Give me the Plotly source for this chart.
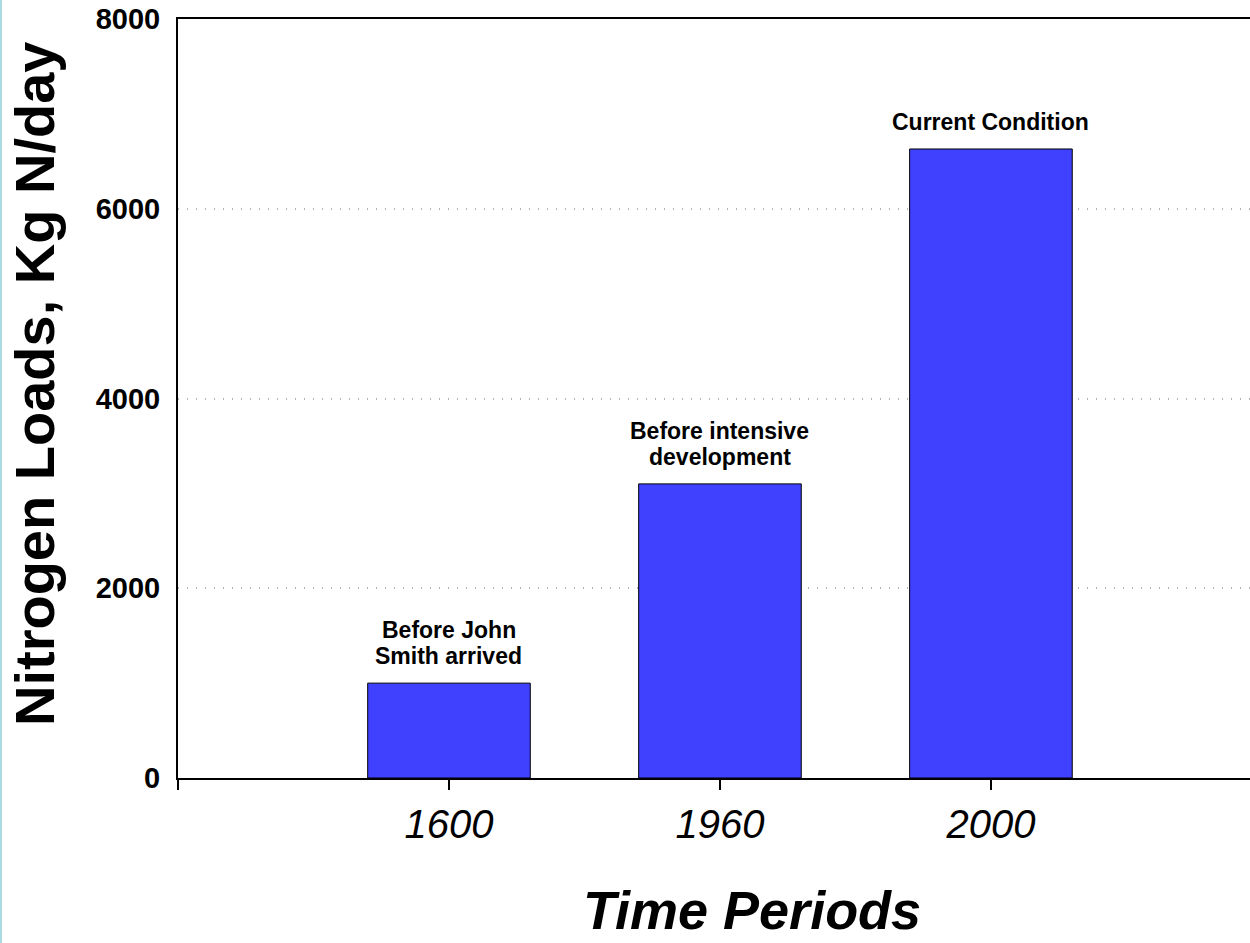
import plotly.graph_objects as go

# Data
periods = ["1600", "1960", "2000"]
positions = [1, 2, 3]
loads = [1000, 3100, 6630]
labels = [["Before John", "Smith arrived"], ["Before intensive", "development"], ["Current Condition"]]
y_ticks = [0, 2000, 4000, 6000, 8000]

FONT = "Arial, Liberation Sans, sans-serif"

fig = go.Figure()
fig.add_trace(go.Bar(
    x=positions, y=loads, width=0.6,
    marker=dict(color="#4040FF", line=dict(color="black", width=1)),
    showlegend=False, hoverinfo="skip",
))

for xp, v, lines in zip(positions, loads, labels):
    for i, line in enumerate(reversed(lines)):
        fig.add_annotation(x=xp, y=v, text="<b>%s</b>" % line, showarrow=False,
                           xanchor="center", yanchor="bottom", yshift=12 + 26 * i,
                           font=dict(family=FONT, size=23, color="black"))

# x axis title
fig.add_annotation(xref="paper", yref="paper", x=(752 - 178) / 1072, y=-(910 - 778) / 759,
                   text="<b><i>Time Periods</i></b>", showarrow=False,
                   xanchor="center", yanchor="middle",
                   font=dict(family=FONT, size=54, color="black"))
# y axis title
fig.add_annotation(xref="paper", yref="paper", x=-(178 - 34) / 1072, y=(778 - 384) / 759,
                   text="<b>Nitrogen Loads, Kg N/day</b>", showarrow=False, textangle=-90,
                   xanchor="center", yanchor="middle",
                   font=dict(family=FONT, size=56, color="black"))

# light blue border on left edge
fig.add_shape(type="line", xref="paper", yref="paper",
              x0=-177 / 1072, x1=-177 / 1072, y0=-165 / 759, y1=1 + 19 / 759,
              line=dict(color="#aadbe3", width=2))

fig.update_layout(
    width=1250, height=943,
    margin=dict(l=178, r=0, t=19, b=165),
    paper_bgcolor="white", plot_bgcolor="white",
    font=dict(family=FONT, color="black"),
    xaxis=dict(
        range=[0, 3.956], tickvals=[0] + positions, ticktext=[""] + periods,
        showline=True, linecolor="black", linewidth=2, mirror=True,
        ticks="outside", ticklen=10, tickwidth=1.5, tickcolor="black",
        showgrid=False, zeroline=False,
        tickfont=dict(family=FONT, size=40, style="italic", color="black"),
        ticklabelstandoff=0,
    ),
    yaxis=dict(
        range=[0, 8000], tickvals=y_ticks,
        ticktext=["<b>%d</b>" % v for v in y_ticks],
        showline=True, linecolor="black", linewidth=2,
        ticks="", showgrid=True, gridcolor="#b4b4b4", griddash="1px,8px", gridwidth=1.5,
        zeroline=False,
        tickfont=dict(family=FONT, size=29, color="black"),
        ticklabelstandoff=10,
    ),
)

fig.write_html("out.html", config={"displayModeBar": False},
               post_script="document.body.style.margin='0';document.body.style.overflow='hidden';")
